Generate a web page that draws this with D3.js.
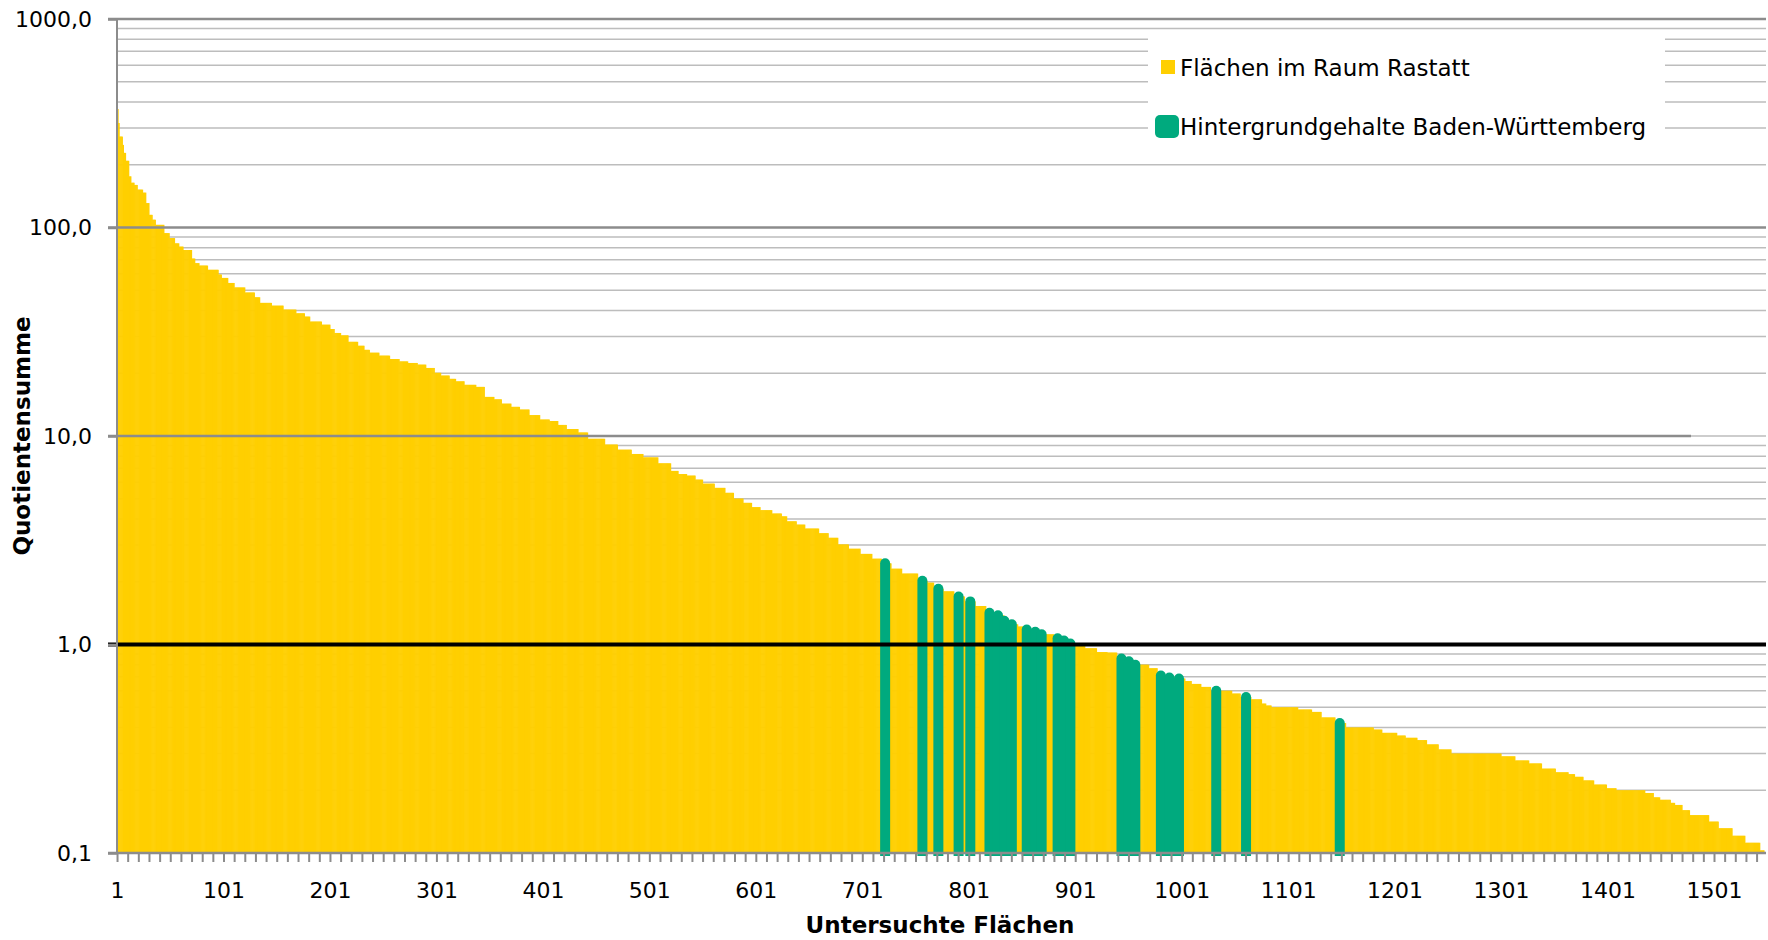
<!DOCTYPE html>
<html>
<head>
<meta charset="utf-8">
<script src="https://cdn.jsdelivr.net/npm/d3@7"></script>
<style>
body { margin: 0; background: #fff; }
svg { display: block; font-family: "DejaVu Sans", sans-serif; }
</style>
</head>
<body>
<svg id="chart" width="1768" height="940"></svg>
<script>
// Quotientensumme, sorted descending, read off as flat steps:
// runEnd = last rank of the step, runValue = value of the step
const runEnd = [1, 2, 5, 6, 8, 11, 13, 16, 19, 24, 27, 30, 33, 36, 44, 49, 54, 58, 62, 70,
  73, 77, 85, 95, 98, 104, 110, 120, 129, 134, 145, 156, 168, 176, 181, 192, 200, 204, 210, 217,
  226, 232, 237, 246, 256, 265, 273, 282, 290, 298, 304, 312, 318, 326, 337, 345, 354, 361, 370, 378,
  387, 397, 406, 414, 422, 433, 442, 458, 470, 483, 494, 508, 520, 527, 535, 543, 550, 561, 571, 579,
  588, 596, 604, 615, 624, 629, 638, 646, 659, 668, 677, 687, 698, 709, 718, 727, 737, 752, 761, 767,
  776, 786, 796, 806, 816, 825, 833, 837, 846, 851, 859, 865, 880, 887, 893, 899, 909, 920, 930, 939,
  947, 954, 969, 977, 986, 994, 1003, 1009, 1018, 1027, 1047, 1055, 1065, 1075, 1079, 1084, 1109, 1122, 1131, 1144,
  1154, 1180, 1188, 1202, 1210, 1221, 1230, 1241, 1253, 1300, 1313, 1326, 1338, 1351, 1363, 1369, 1377, 1387, 1399, 1408,
  1435, 1443, 1449, 1459, 1463, 1470, 1477, 1495, 1504, 1517, 1529, 1543, 1547];
const runValue = [370, 317, 273, 249, 228, 209, 176, 164, 160, 152, 147, 131, 115, 109, 103, 94, 89, 84, 81, 78,
  71, 67.5, 65.7, 62.7, 59.5, 57.3, 54.2, 51.6, 48.8, 46.3, 43.5, 42.2, 40.4, 38.8, 37.4, 35.4, 34.2, 32.6, 31.2, 30.4,
  28.3, 27.1, 25.9, 25.1, 24.3, 23.4, 22.8, 22.4, 22.0, 21.2, 20.1, 19.5, 18.8, 18.3, 17.6, 17.2, 15.4, 15.0, 14.3, 13.8,
  13.4, 12.6, 12.0, 11.8, 11.3, 10.8, 10.4, 9.7, 9.1, 8.6, 8.2, 7.9, 7.4, 6.8, 6.57, 6.46, 6.18, 5.91, 5.64, 5.34,
  5.01, 4.78, 4.56, 4.41, 4.25, 4.12, 3.90, 3.76, 3.60, 3.42, 3.25, 3.02, 2.88, 2.72, 2.58, 2.45, 2.31, 2.19, 2.02, 1.98,
  1.85, 1.80, 1.70, 1.61, 1.53, 1.42, 1.38, 1.30, 1.25, 1.22, 1.18, 1.15, 1.12, 1.07, 1.045, 1.01, 1.0, 0.96, 0.92, 0.915,
  0.857, 0.83, 0.80, 0.77, 0.71, 0.695, 0.687, 0.668, 0.647, 0.626, 0.60, 0.582, 0.56, 0.546, 0.521, 0.51, 0.5, 0.488, 0.475, 0.447,
  0.42, 0.4, 0.391, 0.377, 0.366, 0.357, 0.348, 0.332, 0.314, 0.3, 0.291, 0.278, 0.269, 0.254, 0.244, 0.239, 0.232, 0.223, 0.213, 0.2045,
  0.2, 0.194, 0.185, 0.18, 0.174, 0.17, 0.1605, 0.152, 0.1415, 0.1315, 0.121, 0.112, 0.103];

// ranks that are also background sites (Hintergrundgehalte BW)
const greenRanks = [722, 757, 772, 791, 802, 820, 828, 834, 841, 855, 863, 869, 884, 890, 896,
  944, 951, 957, 981, 989, 998, 1033, 1061, 1149];

const xLabelRanks = [1, 101, 201, 301, 401, 501, 601, 701, 801, 901, 1001, 1101, 1201, 1301, 1401, 1501];
const yTicks = [0.1, 1, 10, 100, 1000];
const legendLabels = ["Flächen im Raum Rastatt", "Hintergrundgehalte Baden-Württemberg"];

const yellow = "#FFCF01", green = "#00AA7E", axisGrey = "#8c8c8c", minorGrey = "#bdbdbd";

// expand steps to one bar per rank
let bars = [];
let r = 1;
runEnd.forEach((end, i) => {
  for (; r <= end; r++) bars.push({rank: r, value: runValue[i]});
});
const N = bars.length;

const pLeft = 117, pRight = 1764, pTop = 19, pBottom = 853;
const svg = d3.select("#chart");

const x = d3.scaleBand().domain(d3.range(1, N + 1)).range([pLeft, pRight]).padding(0);
const y = d3.scaleLog().domain([0.1, 1000]).range([pBottom, pTop]);

// minor gridlines (behind bars)
const minorVals = d3.merge([0.1, 1, 10, 100].map(b => d3.range(2, 10).map(k => b * k))).concat([10]);
svg.append("g").selectAll("line")
  .data(minorVals)
  .enter().append("line")
  .attr("x1", pLeft).attr("x2", 1766)
  .attr("y1", d => y(d)).attr("y2", d => y(d))
  .attr("stroke", minorGrey).attr("stroke-width", 1.6);

// yellow bars
svg.append("g").selectAll("rect")
  .data(bars)
  .enter().append("rect")
  .attr("x", d => x(d.rank))
  .attr("width", x.bandwidth() + 0.6)
  .attr("y", d => y(d.value))
  .attr("height", d => pBottom - y(d.value))
  .attr("fill", yellow);

// green bars, round-topped, same value as the ranked bar
const greenBars = bars.filter(d => greenRanks.includes(d.rank));
svg.append("g").selectAll("path")
  .data(greenBars)
  .enter().append("path")
  .attr("d", d => {
    let cx = x(d.rank) + x.bandwidth() / 2, ty = y(d.value);
    return `M${cx - 5},${pBottom + 3}V${ty}A5,5 0 0 1 ${cx + 5},${ty}V${pBottom + 3}Z`;
  })
  .attr("fill", green);

// major gridlines over the bars
svg.append("g").selectAll("line")
  .data([100, 1000])
  .enter().append("line")
  .attr("x1", pLeft - 9).attr("x2", 1766)
  .attr("y1", d => y(d)).attr("y2", d => y(d))
  .attr("stroke", axisGrey).attr("stroke-width", 2.5);
svg.append("line")
  .attr("x1", pLeft - 9).attr("x2", 1691)
  .attr("y1", y(10)).attr("y2", y(10))
  .attr("stroke", axisGrey).attr("stroke-width", 2.5);

// threshold line at 1,0
svg.append("line")
  .attr("x1", pLeft - 9).attr("x2", 1766)
  .attr("y1", y(1)).attr("y2", y(1))
  .attr("stroke", "#000").attr("stroke-width", 4);

// x axis
const gx = svg.append("g")
  .attr("transform", `translate(0,${pBottom})`)
  .call(d3.axisBottom(x)
    .tickValues(d3.range(1, N + 1, 10))
    .tickFormat(d => xLabelRanks.includes(d) ? d : "")
    .tickSize(9).tickSizeOuter(0));
gx.select(".domain").remove();
gx.selectAll(".tick line").attr("stroke", axisGrey).attr("stroke-width", 2);
gx.selectAll(".tick text").attr("y", 45).attr("dy", 0)
  .attr("font-size", 22).attr("fill", "#000").attr("font-family", "DejaVu Sans");
svg.append("line")
  .attr("x1", pLeft - 9).attr("x2", 1766)
  .attr("y1", pBottom).attr("y2", pBottom)
  .attr("stroke", axisGrey).attr("stroke-width", 2.5);

// y axis
const gy = svg.append("g")
  .attr("transform", `translate(${pLeft},0)`)
  .call(d3.axisLeft(y)
    .tickValues(yTicks)
    .tickFormat(d => d.toFixed(1).replace(".", ","))
    .tickSize(9).tickSizeOuter(0).tickPadding(16));
gy.select(".domain").remove();
gy.selectAll(".tick line").attr("stroke", axisGrey).attr("stroke-width", 2.5);
gy.selectAll(".tick text").attr("font-size", 22).attr("fill", "#000").attr("font-family", "DejaVu Sans");
svg.append("line")
  .attr("x1", pLeft).attr("x2", pLeft)
  .attr("y1", pTop).attr("y2", pBottom + 1)
  .attr("stroke", axisGrey).attr("stroke-width", 2);

// axis titles
svg.append("text")
  .attr("x", 940).attr("y", 933)
  .attr("text-anchor", "middle")
  .attr("font-size", 23).attr("font-weight", "bold")
  .text("Untersuchte Flächen");
svg.append("text")
  .attr("transform", "translate(30,436) rotate(-90)")
  .attr("text-anchor", "middle")
  .attr("font-size", 23).attr("font-weight", "bold")
  .text("Quotientensumme");

// legend
const lg = svg.append("g");
lg.append("rect")
  .attr("x", 1148).attr("y", 33).attr("width", 517).attr("height", 109)
  .attr("fill", "#fff");
lg.append("rect")
  .attr("x", 1161).attr("y", 60).attr("width", 14).attr("height", 14)
  .attr("fill", yellow);
lg.append("rect")
  .attr("x", 1155).attr("y", 115).attr("width", 24).attr("height", 23).attr("rx", 5)
  .attr("fill", green);
lg.selectAll(".lgtext")
  .data(legendLabels)
  .enter().append("text")
  .attr("x", 1180).attr("y", (d, i) => 68 + i * 59)
  .attr("dy", "0.36em")
  .attr("font-size", 23)
  .text(d => d);
</script>
</body>
</html>
